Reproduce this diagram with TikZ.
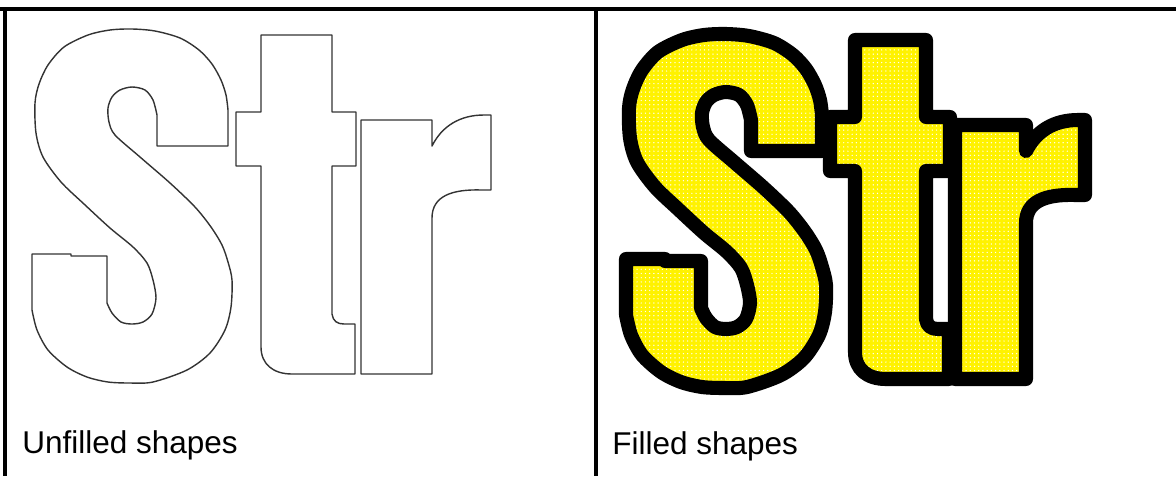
\documentclass[tikz,border=0pt]{standalone}
\usepackage{fontspec}
\setmainfont{Liberation Sans}
\usetikzlibrary{patterns}

% letter outlines, in pixel units (y grows downwards)
\newcommand{\glyphS}{(157,146) -- (228,146)
  -- plot[smooth,tension=0.5] coordinates {(228,110) (226,95) (221,80) (212,64) (199,50) (180,38) (155,31) (132,29) (110,30) (88,35) (64,47) (48,65) (39,84) (35,103) (36,133) (43,157) (61,182) (84,204) (110,228) (133,247) (147,263) (153,280) (156,298) (152,314) (143,322) (132,324) (121,322) (112,313) (107,303)}
  -- (107,256) -- (71,256) -- (71,254) -- (32,254) -- (32,310)
  -- plot[smooth,tension=0.5] coordinates {(32,310) (37,330) (48,350) (67,367) (87,377) (108,382) (130,383) (153,382) (187,370) (210,353) (225,330) (231,307) (232,280) (228,262) (222,245) (211,227) (195,207) (170,183) (140,157) (115,135) (109,122) (108,108) (112,97) (120,90) (132,87) (145,90) (153,100) (157,115)}
  -- cycle}
\newcommand{\glyphT}{(261,35) -- (332,35) -- (332,112) -- (356,112) -- (356,166) -- (332,166) -- (332,314)
  .. controls (333,321) and (337,324) .. (344,324) -- (355,324) -- (355,374) -- (292,374)
  .. controls (273,374) and (261,364) .. (261,347) -- (261,166) -- (236,166) -- (236,112) -- (261,112) -- cycle}
\newcommand{\glyphR}{(361,120) -- (432,120) -- (432,146)
  .. controls (442,126) and (460,115) .. (484,115) -- (491,115) -- (491,190) -- (482,190)
  .. controls (452,189) and (432,196) .. (432,218) -- (432,374) -- (361,374) -- cycle}

\begin{document}
\begin{tikzpicture}[x=0.025cm,y=-0.025cm,
  frame/.style={line width=3.2pt},
  outline/.style={draw=black!80,line width=1pt,line join=round},
  solidglyph/.style={draw=black,line width=10pt,line join=round,
                     preaction={fill=yellow},pattern=dots,pattern color=white},
  caption/.style={anchor=base west,inner sep=0pt,font=\fontsize{22.4}{26}\selectfont}
]
  \useasboundingbox (0,0) rectangle (1176,476);

  % frame
  \draw[frame] (0,9) -- (1176,9);
  \draw[frame] (5,7) -- (5,476);
  \draw[frame] (596,7) -- (596,476);

  % unfilled
  \draw[outline] \glyphS;
  \draw[outline] \glyphT;
  \draw[outline] \glyphR;

  % filled
  \begin{scope}[shift={(594,5)}]
    \draw[solidglyph] \glyphS;
    \draw[solidglyph] \glyphT;
    \draw[solidglyph] \glyphR;
  \end{scope}

  \node[caption] (unfilledlbl) at (22,453) {Unfilled shapes};
  \node[caption] (filledlbl) at (612,454) {Filled shapes};
\end{tikzpicture}
\end{document}
